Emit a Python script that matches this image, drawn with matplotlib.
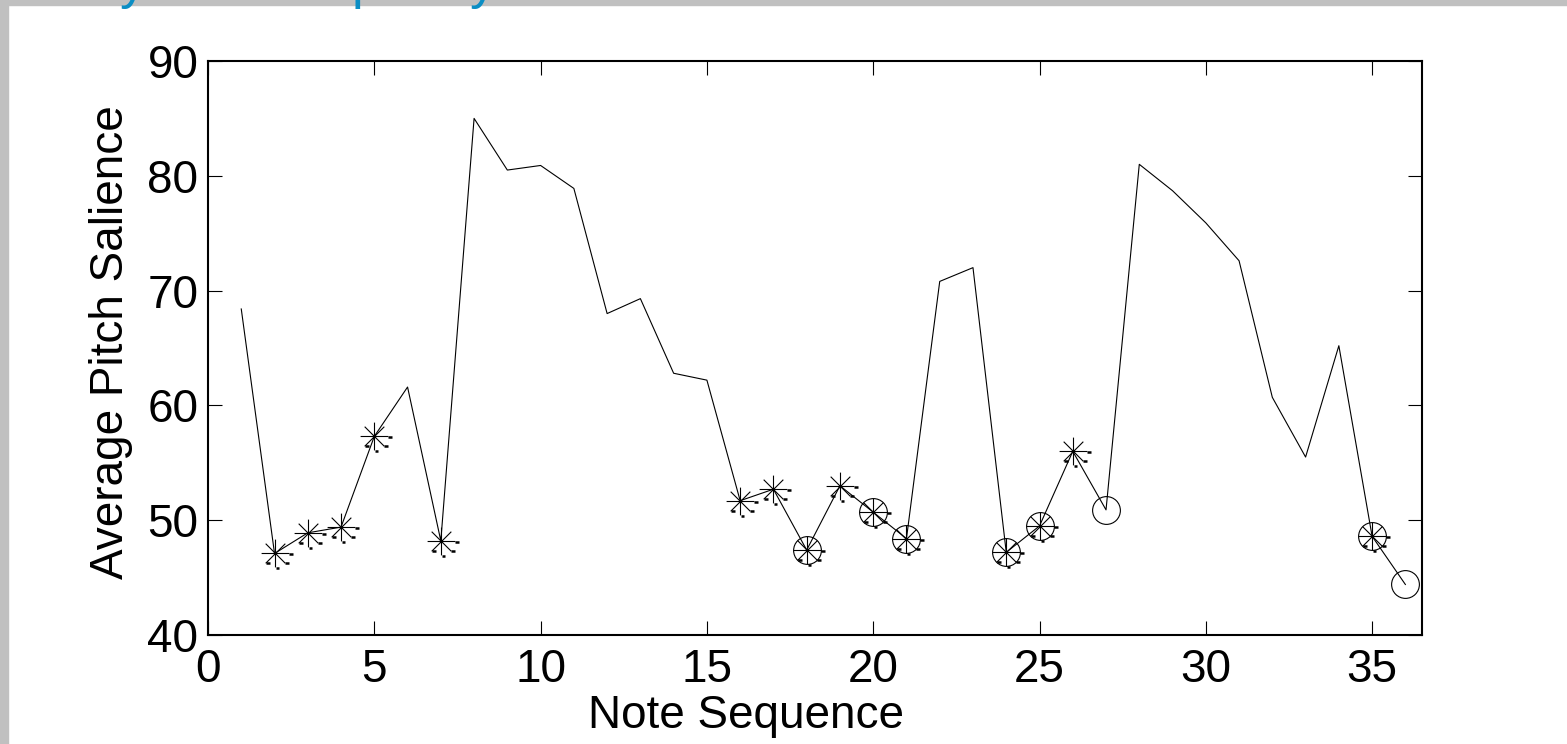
import matplotlib.pyplot as plt
import numpy as np
from matplotlib.path import Path
from matplotlib.patches import Rectangle

plt.rcParams['font.family'] = ['Liberation Sans', 'DejaVu Sans']

notes = np.arange(1, 37)
salience = [68.4, 47.1, 48.9, 49.4, 57.3, 61.6, 48.2, 85.0, 80.5, 80.9,
            78.9, 68.0, 69.3, 62.8, 62.2, 51.7, 52.7, 47.4, 53.0, 50.7,
            48.4, 70.8, 72.0, 47.2, 49.5, 56.0, 50.9, 81.0, 78.7, 75.9,
            72.6, 60.7, 55.5, 65.2, 48.6, 44.4]
star_notes = [2, 3, 4, 5, 7, 16, 17, 18, 19, 20, 21, 24, 25, 26, 35]
ring_notes = [18, 20, 21, 24, 25, 27, 35, 36]
x_ticks = [0, 5, 10, 15, 20, 25, 30, 35]
y_ticks = [40, 50, 60, 70, 80, 90]


def pick(idx):
    return [salience[i - 1] for i in idx]


# matlab style asterisk (8 spokes)
s = np.sqrt(0.5)
star = Path([(-1, 0), (1, 0), (0, -1), (0, 1), (-s, -s), (s, s), (-s, s), (s, -s)],
            [Path.MOVETO, Path.LINETO] * 4)
# the little dashes the export left next to each asterisk
dash_v = np.array([(1.0, -0.05), (1.29, -0.05), (0.71, -0.71), (0.98, -0.71),
                   (0.05, -1.07), (0.31, -1.07), (-0.66, -0.71), (-0.36, -0.71)])
dash = Path(dash_v, [Path.MOVETO, Path.LINETO] * 4)
ms_star = 20
ms_dash = ms_star * np.abs(dash_v).max()

W, H = 1567, 744
fig = plt.figure(figsize=(W / 100, H / 100), dpi=100)
fig.patches.append(Rectangle((0, 0), 8 / W, 1, transform=fig.transFigure,
                             color='#c0c0c0', zorder=0))
fig.patches.append(Rectangle((0, 1 - 5 / H), 1, 5 / H, transform=fig.transFigure,
                             color='#c0c0c0', zorder=0))
# bottom of the slide title that sits above the chart
for xp, ch in [(120, 'y'), (352, 'p'), (470, 'y')]:
    fig.text(xp / W, 1.0 + 2 / H, ch, color='#0b8ec4', fontsize=38, va='baseline')

ax = fig.add_axes([208 / W, (H - 635) / H, (1422 - 208) / W, (635 - 61) / H])
ax.plot(notes, salience, color='k', lw=0.8)
ax.plot(star_notes, pick(star_notes), ls='none', marker=star, ms=ms_star,
        mec='k', mfc='none', mew=0.8)
ax.plot(star_notes, pick(star_notes), ls='none', marker=dash, ms=ms_dash,
        mec='k', mfc='none', mew=1.8)
ax.plot(ring_notes, pick(ring_notes), ls='none', marker='o', ms=20,
        mec='k', mfc='none', mew=0.8)

ax.set_xlim(0, 36.5)
ax.set_ylim(40, 90)
ax.set_xticks(x_ticks)
ax.set_yticks(y_ticks)
ax.tick_params(direction='in', length=10, width=0.8, top=True, right=True,
               labelsize=33)
ax.tick_params(axis='x', pad=9)
ax.tick_params(axis='y', pad=7)
for sp in ax.spines.values():
    sp.set_linewidth(1.5)
ax.set_xlabel('Note Sequence', fontsize=33, labelpad=2)
ax.set_ylabel('Average Pitch Salience', fontsize=33, labelpad=10)
ax.xaxis.label.set_x((746 - 208) / 1214)
ax.yaxis.label.set_y((635 - 342) / 574)

fig.savefig('out.png', dpi=100)
